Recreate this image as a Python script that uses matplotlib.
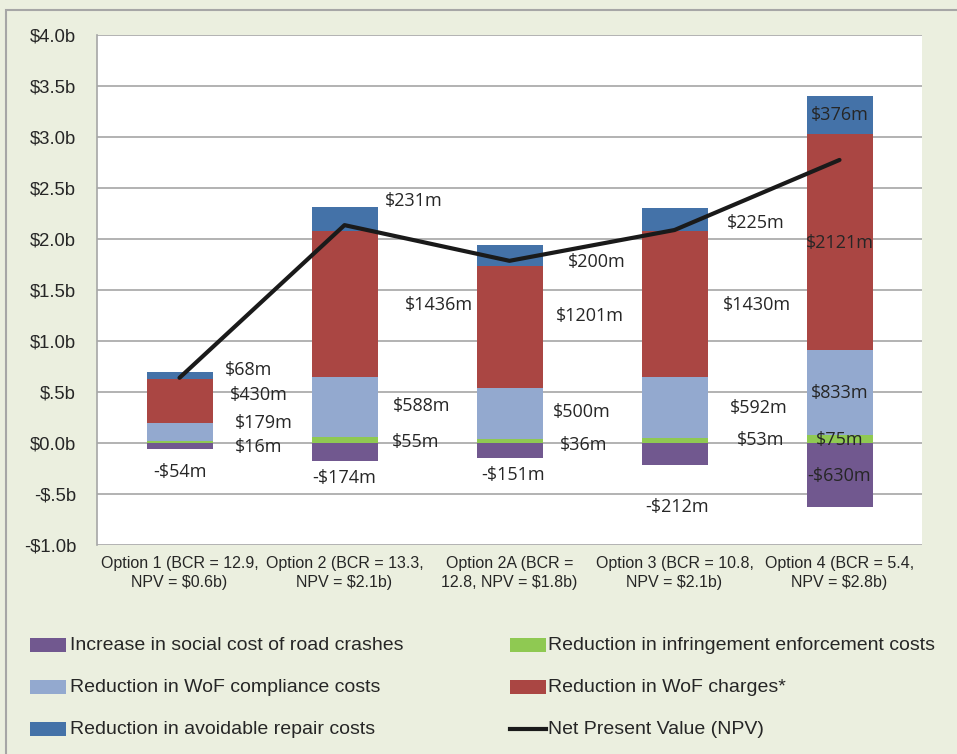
import matplotlib
matplotlib.use("Agg")
import matplotlib.pyplot as plt
from matplotlib.patches import Rectangle
from matplotlib.lines import Line2D
from matplotlib import font_manager as fm
import numpy as np

categories = ["Option 1 (BCR = 12.9,\nNPV = $0.6b)", "Option 2 (BCR = 13.3,\nNPV = $2.1b)",
              "Option 2A (BCR =\n12.8, NPV = $1.8b)", "Option 3 (BCR = 10.8,\nNPV = $2.1b)",
              "Option 4 (BCR = 5.4,\nNPV = $2.8b)"]
crashes = [-54, -174, -151, -212, -630]
infringement = [16, 55, 36, 53, 75]
compliance = [179, 588, 500, 592, 833]
charges = [430, 1436, 1201, 1430, 2121]
repair = [68, 231, 200, 225, 376]
npv = [639, 2136, 1786, 2088, 2775]
yticks = [-1.0, -0.5, 0.0, 0.5, 1.0, 1.5, 2.0, 2.5, 3.0, 3.5, 4.0]
ytick_labels = ["-$1.0b", "-$.5b", "$0.0b", "$.5b", "$1.0b", "$1.5b", "$2.0b", "$2.5b", "$3.0b", "$3.5b", "$4.0b"]
names = ["Increase in social cost of road crashes", "Reduction in infringement enforcement costs",
         "Reduction in WoF compliance costs", "Reduction in WoF charges*",
         "Reduction in avoidable repair costs", "Net Present Value (NPV)"]

colors = {"crash": "#71588F", "inf": "#8FC952", "comp": "#93A9CF", "chg": "#AA4643", "rep": "#4472A8"}

# label layout: (dx from category center, y in $b) for [repair, charges, compliance, infringement, crashes]
label_pos = [
    [(0.42, 0.72), (0.48, 0.47), (0.51, 0.20), (0.48, -0.04), (0.0, -0.28)],
    [(0.42, 2.37), (0.57, 1.35), (0.47, 0.36), (0.43, 0.01), (0.0, -0.34)],
    [(0.53, 1.77), (0.49, 1.25), (0.44, 0.30), (0.45, -0.02), (0.02, -0.31)],
    [(0.49, 2.16), (0.50, 1.35), (0.51, 0.34), (0.52, 0.03), (0.015, -0.63)],
    [(0.0, 3.22), (0.0, 1.96), (0.0, 0.49), (0.0, 0.03), (0.0, -0.32)],
]

avail = {f.name for f in fm.fontManager.ttflist}
narrow = "Liberation Sans Narrow" if "Liberation Sans Narrow" in avail else ("DejaVu Sans Condensed" if "DejaVu Sans Condensed" in avail else "Liberation Sans")
tickfont = "Liberation Sans"
labfont = "Open Sans"

W, H = 957, 754
fig = plt.figure(figsize=(W / 100, H / 100), dpi=100)
bg = "#EBEFDF"
fig.patch.set_facecolor(bg)
fig.add_artist(Rectangle((6 / W, -0.1), 1.2, 1 - 10 / H + 0.1, transform=fig.transFigure,
                         fill=False, edgecolor="#A6A6A6", linewidth=1.5))

ax = fig.add_axes([97 / W, 1 - 545 / H, 825 / W, 510 / H])
ax.set_facecolor("white")
x = np.arange(len(categories))
bw = 0.4
to_b = lambda v: np.array(v) / 1000.0
ax.bar(x, to_b(crashes), bw, color=colors["crash"], zorder=2)
ax.bar(x, to_b(infringement), bw, color=colors["inf"], zorder=2)
b1 = to_b(infringement)
ax.bar(x, to_b(compliance), bw, bottom=b1, color=colors["comp"], zorder=2)
b2 = b1 + to_b(compliance)
ax.bar(x, to_b(charges), bw, bottom=b2, color=colors["chg"], zorder=2)
b3 = b2 + to_b(charges)
ax.bar(x, to_b(repair), bw, bottom=b3, color=colors["rep"], zorder=2)
ax.plot(x, to_b(npv), color="#1a1a1a", linewidth=3.0, zorder=3, solid_capstyle="round")

series_vals = [repair, charges, compliance, infringement, crashes]
for i in range(len(categories)):
    for k, vals in enumerate(series_vals):
        v = vals[i]
        txt = ("-$%dm" % (-v)) if v < 0 else ("$%dm" % v)
        dx, yy = label_pos[i][k]
        ax.text(x[i] + dx, yy, txt, ha="center", va="center", fontsize=13,
                family=labfont, color="#262626", zorder=4)

ax.set_xlim(-0.5, len(categories) - 0.5)
ax.set_ylim(-1.0, 4.0)
ax.set_yticks(yticks)
ax.set_yticklabels(ytick_labels, family=tickfont, fontsize=13.3, color="#262626")
ax.set_xticks(x)
ax.set_xticklabels(categories, family=narrow, fontsize=11.5, color="#262626", linespacing=1.35)
ax.tick_params(axis="both", length=0, pad=8)
ax.tick_params(axis="y", pad=15)
ax.grid(axis="y", color="#A6A6A6", linewidth=1.2, zorder=0)
for s in ["top", "right", "bottom"]:
    ax.spines[s].set_visible(False)
ax.spines["left"].set_color("#A6A6A6")
ax.spines["left"].set_linewidth(1.2)

# manual legend
leg_rows = [645, 687, 729]
leg_cols = [(30, 70), (510, 548)]
handles = [("patch", colors["crash"]), ("patch", colors["inf"]), ("patch", colors["comp"]),
           ("patch", colors["chg"]), ("patch", colors["rep"]), ("line", "#1a1a1a")]
for j, (kind, c) in enumerate(handles):
    r, col = divmod(j, 2)
    x0, xt = leg_cols[col]
    yc = leg_rows[r]
    if kind == "patch":
        fig.add_artist(Rectangle((x0 / W, 1 - (yc + 7) / H), 36 / W, 14 / H,
                                 transform=fig.transFigure, facecolor=c, edgecolor="none"))
    else:
        fig.add_artist(Line2D([x0 / W, (x0 + 36) / W], [1 - yc / H, 1 - yc / H],
                              transform=fig.transFigure, color=c, linewidth=3.0))
    fig.text(xt / W, 1 - yc / H, names[j], ha="left", va="center", family=narrow,
             fontsize=14, color="#262626")

fig.savefig("out.png", dpi=100, facecolor=bg)
